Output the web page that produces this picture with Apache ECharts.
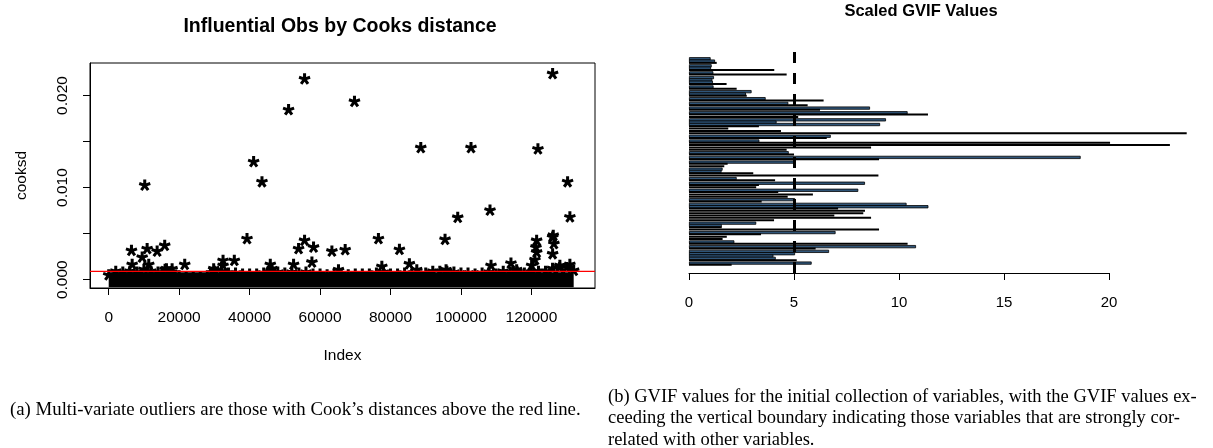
<!DOCTYPE html>
<html><head><meta charset="utf-8">
<script src="https://cdn.jsdelivr.net/npm/echarts@6/dist/echarts.min.js"></script>
<style>html,body{margin:0;padding:0;background:#fff}#c{width:1213px;height:448px}</style>
</head><body><div id="c"></div>
<script>
// ---------- Panel (a): Cook's distance ----------
const cookTitle = 'Influential Obs by Cooks distance';
const cookXName = 'Index';
const cookYName = 'cooksd';
const cookCutoff = 0.0009;
const cookXRange = [-5310, 138050];
const cookYRange = [-0.000905, 0.02353];
const cookXTicks = [0, 20000, 40000, 60000, 80000, 100000, 120000];
const cookYTicks = [0, 0.005, 0.010, 0.015, 0.020];
const cookYLabels = [0, 0.010, 0.020];
// isolated points (index, cooksd)
const outlierIdx = [10230, 41140, 43510, 51060, 55600, 69770, 6460, 6660, 9500, 10910,
  11370, 13750, 15900, 16390, 18000, 21580, 29800, 32460, 32460, 35660,
  39260, 45870, 46350, 52480, 53900, 55600, 58150, 57690, 63360, 67130,
  65230, 76570, 77540, 82530, 85360, 87460, 88590, 95480, 95770, 99080,
  102850, 108240, 108530, 114190, 115810, 120060, 121000, 121480, 121480, 121280,
  121850, 126020, 130270, 130920, 126020, 126200, 126380, 126020, 130920, 128080];
const outlierVal = [0.01026, 0.0128, 0.01062, 0.01844, 0.02179, 0.01935, 0.00316, 0.00164, 0.00243, 0.00335,
  0.00164, 0.00309, 0.00371, 0.00117, 0.00117, 0.00164, 0.00117, 0.00207, 0.00153, 0.00207,
  0.00444, 0.00164, 0.00117, 0.00164, 0.00335, 0.00426, 0.00352, 0.00189, 0.00309, 0.00324,
  0.00106, 0.00444, 0.00142, 0.00327, 0.00171, 0.00106, 0.01433, 0.00436, 0.00106, 0.00676,
  0.01433, 0.00753, 0.00153, 0.00178, 0.00106, 0.00153, 0.00215, 0.00298, 0.00426, 0.00352,
  0.01418, 0.02237, 0.01062, 0.0068, 0.00462, 0.0048, 0.0039, 0.0028, 0.00164, 0.00153];
// the dense mass of points near zero: upper edge read every 2000 indices
const bandIdx = [0, 2000, 4000, 6000, 8000, 10000, 12000, 14000, 16000, 18000,
  20000, 22000, 24000, 26000, 28000, 30000, 32000, 34000, 36000, 38000,
  40000, 42000, 44000, 46000, 48000, 50000, 52000, 54000, 56000, 58000,
  60000, 62000, 64000, 66000, 68000, 70000, 72000, 74000, 76000, 78000,
  80000, 82000, 84000, 86000, 88000, 90000, 92000, 94000, 96000, 98000,
  100000, 102000, 104000, 106000, 108000, 110000, 112000, 114000, 116000, 118000,
  120000, 122000, 124000, 126000, 128000, 130000, 132000];
const bandTop = [0.0005, 0.0009, 0.0008, 0.0009, 0.0008, 0.0011, 0.0009, 0.0008, 0.0011, 0.0008,
  0.0004, 0.0003, 0.0003, 0.0003, 0.0004, 0.0009, 0.0009, 0.0007, 0.0007, 0.0006,
  0.0006, 0.0006, 0.0007, 0.0009, 0.0008, 0.0007, 0.0008, 0.0007, 0.0008, 0.0006,
  0.0006, 0.0005, 0.0006, 0.0006, 0.0005, 0.0006, 0.0006, 0.0006, 0.0007, 0.0008,
  0.0006, 0.0006, 0.0007, 0.0006, 0.0005, 0.0007, 0.0009, 0.0009, 0.0009, 0.0008,
  0.0007, 0.0007, 0.0006, 0.0007, 0.0008, 0.0006, 0.0009, 0.0008, 0.0008, 0.0007,
  0.0008, 0.0009, 0.0009, 0.0012, 0.0013, 0.0013, 0.0010];
const baseIdx = [0, 132000];
const baseVal = [0, 0];

// ---------- Panel (b): Scaled GVIF ----------
const gvifTitle = 'Scaled GVIF Values';
const gvifThreshold = 5;
const gvifTicks = [0, 5, 10, 15, 20];
// top to bottom as drawn
const gvifValues = [1.03,1.24,1.32,1.08,1.05,4.06,1.16,4.65,1.19,1.11,
  1.14,1.79,1.17,2.27,2.98,2.71,2.75,3.65,6.41,4.73,
  5.65,8.62,6.24,10.41,11.38,5.2,9.38,4.17,9.1,3.33,
  1.87,4.38,23.7,6.75,6.56,3.35,20.05,22.9,8.67,4.65,
  4.75,5.0,18.65,9.05,5.05,1.84,1.68,1.6,1.55,3.06,
  9.02,2.27,4.1,8.38,3.33,3.2,8.06,4.25,5.9,4.7,
  5.05,3.46,10.36,11.4,7.1,8.38,8.3,6.92,8.67,4.05,
  3.2,1.56,1.56,9.05,6.98,3.43,1.8,1.6,2.16,10.41,
  10.81,6.03,6.67,5.05,4.02,4.13,5.13,5.84,2.03];
// B = bar seen with its blue fill, K = bar seen only as a black edge
const gvifSeenAs = 'BBKBBKBKBB' + 'BKBKBBKBKB' + 'KBKBKKBBBK' + 'KKKBKBKKKK' + 'BKBKBKKBBK' +
  'KBKBKKBKKK' + 'BKBBKKKKKK' + 'BBKKBKKKBK' + 'BKBBBBKBK';
const gvifNames = gvifValues.map((_, i) => 'var' + (i + 1));

const captionA = '(a) Multi-variate outliers are those with Cook\u2019s distances above the red line.';
const captionB = '(b) GVIF values for the initial collection of variables, with the GVIF values ex-\nceeding the vertical boundary indicating those variables that are strongly cor-\nrelated with other variables.';

// ---------- build ----------
function starPath(arms, len, hw) {
  let d = '';
  for (let k = 0; k < arms; k++) {
    const a = (-90 + 360 / arms * k) * Math.PI / 180;
    const ux = Math.cos(a), uy = Math.sin(a), px = -uy, py = ux;
    const bx = -ux * hw * 0.6, by = -uy * hw * 0.6;
    const pts = [[bx + px * hw, by + py * hw], [ux * len + px * hw, uy * len + py * hw],
                 [ux * len - px * hw, uy * len - py * hw], [bx - px * hw, by - py * hw]];
    d += 'M' + pts.map(p => p[0].toFixed(2) + ' ' + p[1].toFixed(2)).join('L') + 'Z';
  }
  return 'path://' + d;
}
const STAR = starPath(5, 10, 2.6);
const sans = 'Liberation Sans, Arial, sans-serif';
const serif = 'Liberation Serif, Times New Roman, serif';

const chart = echarts.init(document.getElementById('c'), null, {renderer: 'canvas'});
const filled = gvifValues.map((v, i) => gvifSeenAs[i] === 'B' ? v : null);
const edged = gvifValues.map((v, i) => gvifSeenAs[i] === 'K' ? v : null);

chart.setOption({
  animation: false,
  backgroundColor: '#fff',
  title: [
    {text: cookTitle, left: 340, top: 17, textAlign: 'center', padding: 0,
     textStyle: {fontFamily: sans, fontSize: 19.5, fontWeight: 'bold', color: '#000'}},
    {text: gvifTitle, left: 921, top: 3, textAlign: 'center', padding: 0,
     textStyle: {fontFamily: sans, fontSize: 16.5, fontWeight: 'bold', color: '#000'}},
    {text: captionA, left: 10, top: 401, padding: 0,
     textStyle: {fontFamily: serif, fontSize: 18.8, fontWeight: 'normal', color: '#000'}},
    {text: captionB, left: 608, top: 386, padding: 0,
     textStyle: {fontFamily: serif, fontSize: 18.5, fontWeight: 'normal', color: '#000', lineHeight: 21.5}}
  ],
  grid: [
    {left: 90, right: 618, top: 63, bottom: 160, show: true, borderColor: '#000', borderWidth: 1, backgroundColor: 'transparent'},
    {left: 689, right: 20, top: 57, bottom: 182},
    {left: 689, width: 420, top: 48, bottom: 175}
  ],
  xAxis: [
    {gridIndex: 0, type: 'value', min: cookXRange[0], max: cookXRange[1],
     name: cookXName, nameLocation: 'middle', nameGap: 60,
     nameTextStyle: {fontFamily: sans, fontSize: 15.5, color: '#000'},
     axisLine: {show: true, onZero: false, lineStyle: {color: '#000', width: 1}},
     axisTick: {show: true, length: 7, customValues: cookXTicks, lineStyle: {color: '#000'}},
     axisLabel: {customValues: cookXTicks, fontFamily: sans, fontSize: 15.5, color: '#000', margin: 22,
                 formatter: v => String(v)},
     splitLine: {show: false}},
    {gridIndex: 1, type: 'value', min: 0, max: 24, show: false, splitLine: {show: false}},
    {gridIndex: 2, type: 'value', min: 0, max: 20, interval: 5,
     axisLine: {show: true, onZero: false, lineStyle: {color: '#000', width: 1}},
     axisTick: {show: true, length: 7, lineStyle: {color: '#000'}},
     axisLabel: {fontFamily: sans, fontSize: 15, color: '#000', margin: 22},
     splitLine: {show: false}}
  ],
  yAxis: [
    {gridIndex: 0, type: 'value', min: cookYRange[0], max: cookYRange[1],
     name: cookYName, nameLocation: 'middle', nameGap: 60, nameRotate: 90,
     nameTextStyle: {fontFamily: sans, fontSize: 15.5, color: '#000'},
     axisLine: {show: true, onZero: false, lineStyle: {color: '#000', width: 1}},
     axisTick: {show: true, length: 7, customValues: cookYTicks, lineStyle: {color: '#000'}},
     axisLabel: {customValues: cookYLabels, rotate: 90, fontFamily: sans, fontSize: 15.5, color: '#000', margin: 19,
                 formatter: v => v.toFixed(3)},
     splitLine: {show: false}},
    {gridIndex: 1, type: 'category', data: gvifNames, inverse: true, show: false},
    {gridIndex: 2, type: 'value', min: 0, max: 1, show: false, splitLine: {show: false}}
  ],
  series: [
    {type: 'line', xAxisIndex: 0, yAxisIndex: 0, data: baseIdx.map((x, i) => [x, baseVal[i]]),
     symbol: 'none', lineStyle: {color: '#000', width: 15, cap: 'butt'}, silent: true, z: 2},
    {type: 'scatter', xAxisIndex: 0, yAxisIndex: 0, data: bandIdx.map((x, i) => [x, bandTop[i]]),
     symbol: STAR, symbolSize: [12, 11.5], itemStyle: {color: '#000', opacity: 1}, silent: true, z: 3},
    {type: 'scatter', xAxisIndex: 0, yAxisIndex: 0, data: outlierIdx.map((x, i) => [x, outlierVal[i]]),
     symbol: STAR, symbolSize: [12, 11.5], itemStyle: {color: '#000', opacity: 1}, silent: true, z: 4},
    {type: 'line', xAxisIndex: 0, yAxisIndex: 0, name: 'cutoff',
     data: [[cookXRange[0], cookCutoff], [cookXRange[1], cookCutoff]],
     symbol: 'none', lineStyle: {color: '#ff0000', width: 1.2}, silent: true, z: 20},
    {type: 'bar', xAxisIndex: 1, yAxisIndex: 1, data: filled, barWidth: 3.2, barGap: '-100%',
     itemStyle: {color: '#2f5579', borderColor: '#000', borderWidth: 0.8}, silent: true, z: 2},
    {type: 'bar', xAxisIndex: 1, yAxisIndex: 1, data: edged, barWidth: 2, barGap: '-100%',
     itemStyle: {color: '#000'}, silent: true, z: 3},
    {type: 'line', xAxisIndex: 2, yAxisIndex: 2, data: [], showSymbol: false, z: 10,
     markLine: {silent: true, symbol: 'none', label: {show: false}, animation: false,
       lineStyle: {color: '#000', width: 3, type: [11, 10]}, data: [{xAxis: gvifThreshold}]}}
  ]
});
</script></body></html>
